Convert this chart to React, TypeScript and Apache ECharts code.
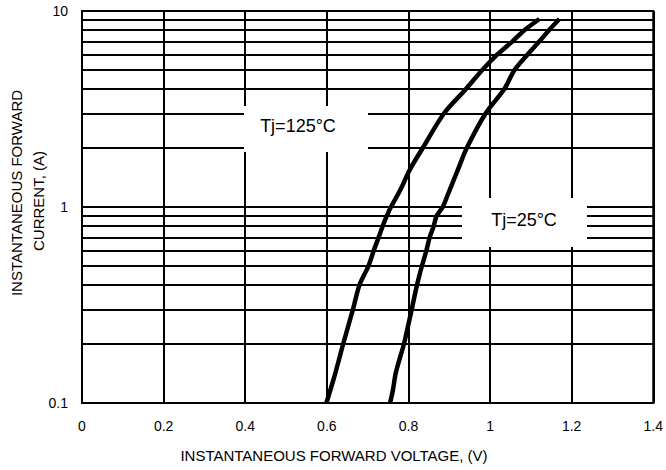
import React, { useEffect, useRef } from 'react';
import * as echarts from 'echarts';

// Tj = 125°C curve (forward voltage V, forward current A)
const voltage125 = [0.599, 0.62, 0.64, 0.664, 0.68, 0.702, 0.715, 0.727, 0.737, 0.747, 0.757, 0.78, 0.803, 0.835, 0.887, 0.941, 0.981, 1.018, 1.055, 1.085, 1.121];
const current125 = [0.1, 0.14, 0.2, 0.3, 0.4, 0.5, 0.6, 0.7, 0.8, 0.9, 1.0, 1.22, 1.545, 2, 3, 4, 5, 6, 7, 8, 9.1];

// Tj = 25°C curve
const voltage25 = [0.755, 0.762, 0.769, 0.789, 0.795, 0.808, 0.821, 0.833, 0.844, 0.852, 0.862, 0.869, 0.884, 0.901, 0.921, 0.943, 0.989, 1.035, 1.06, 1.092, 1.121, 1.145, 1.17];
const current25 = [0.1, 0.1165, 0.1425, 0.2, 0.2266, 0.3, 0.4, 0.5, 0.6, 0.7, 0.8, 0.9, 1.0, 1.22, 1.545, 2, 3, 4, 5, 6, 7, 8, 9.1];

// minor horizontal grid lines (log decades)
const minorGridValues = [0.2, 0.3, 0.4, 0.5, 0.6, 0.7, 0.8, 0.9, 2, 3, 4, 5, 6, 7, 8, 9];

const xTitle = 'INSTANTANEOUS FORWARD VOLTAGE, (V)';
const yTitleLine1 = 'INSTANTANEOUS FORWARD';
const yTitleLine2 = 'CURRENT, (A)';
const label125 = 'Tj=125°C';
const label25 = 'Tj=25°C';

const FONT = '"Liberation Sans", Arial, Helvetica, sans-serif';

export default function App() {
  const ref = useRef<HTMLDivElement>(null);
  useEffect(() => {
    const chart = echarts.init(ref.current!, null, { renderer: 'svg' });
    const pairs = (xs: number[], ys: number[]) => xs.map((x, i) => [x, ys[i]]);
    chart.setOption({
      animation: false,
      backgroundColor: '#fff',
      textStyle: { fontFamily: FONT },
      grid: {
        left: 82,
        right: 12,
        top: 11,
        bottom: 67,
        show: true,
        borderColor: '#000',
        borderWidth: 2,
        backgroundColor: 'transparent',
      },
      xAxis: {
        type: 'value',
        min: 0,
        max: 1.4,
        interval: 0.2,
        axisLine: { show: true, lineStyle: { color: '#000', width: 2 } },
        axisTick: { show: false },
        axisLabel: { color: '#000', fontSize: 14, margin: 16, fontFamily: FONT },
        splitLine: { show: true, lineStyle: { color: '#000', width: 2 } },
      },
      yAxis: {
        type: 'log',
        logBase: 10,
        min: 0.1,
        max: 10,
        axisLine: { show: true, lineStyle: { color: '#000', width: 2 } },
        axisTick: { show: false },
        axisLabel: { color: '#000', fontSize: 14, margin: 14, fontFamily: FONT },
        splitLine: { show: true, lineStyle: { color: '#000', width: 2 } },
      },
      series: [
        {
          type: 'line',
          data: [],
          z: 1,
          silent: true,
          markLine: {
            silent: true,
            symbol: 'none',
            label: { show: false },
            lineStyle: { color: '#000', width: 2, type: 'solid' },
            data: minorGridValues.map((v) => ({ yAxis: v })),
          },
        },
        {
          name: label125,
          type: 'line',
          data: pairs(voltage125, current125),
          showSymbol: false,
          symbol: 'none',
          smooth: 0.3,
          z: 5,
          lineStyle: { color: '#000', width: 4.5 },
        },
        {
          name: label25,
          type: 'line',
          data: pairs(voltage25, current25),
          showSymbol: false,
          symbol: 'none',
          smooth: 0.3,
          z: 5,
          lineStyle: { color: '#000', width: 4.5 },
        },
      ],
      graphic: [
        { type: 'rect', shape: { x: 244, y: 106, width: 124, height: 46 }, style: { fill: '#fff' }, z: 10 },
        { type: 'rect', shape: { x: 462, y: 198, width: 125, height: 49 }, style: { fill: '#fff' }, z: 10 },
        {
          type: 'text', x: 298, y: 126, z: 11,
          style: { text: label125, fill: '#000', font: `18px ${FONT}`, textAlign: 'center', textVerticalAlign: 'middle' },
        },
        {
          type: 'text', x: 524, y: 220, z: 11,
          style: { text: label25, fill: '#000', font: `18px ${FONT}`, textAlign: 'center', textVerticalAlign: 'middle' },
        },
        {
          type: 'text', x: 334, y: 455, z: 11,
          style: { text: xTitle, fill: '#000', font: `15px ${FONT}`, textAlign: 'center', textVerticalAlign: 'middle' },
        },
        {
          type: 'text', x: 16, y: 193, rotation: Math.PI / 2, z: 11,
          style: { text: yTitleLine1, fill: '#000', font: `15px ${FONT}`, textAlign: 'center', textVerticalAlign: 'middle' },
        },
        {
          type: 'text', x: 38, y: 201, rotation: Math.PI / 2, z: 11,
          style: { text: yTitleLine2, fill: '#000', font: `15px ${FONT}`, textAlign: 'center', textVerticalAlign: 'middle' },
        },
      ],
    });
    return () => chart.dispose();
  }, []);
  return (
    <div
      ref={ref}
      style={{ position: 'absolute', left: 0, top: 0, width: 666, height: 470, background: '#fff' }}
    />
  );
}
